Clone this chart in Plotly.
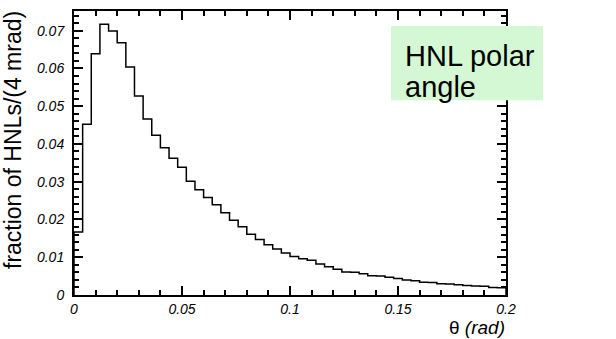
import numpy as np
import plotly.graph_objects as go

# Polar-angle distribution of HNLs, 4 mrad bins from 0 to 0.2 rad
bin_width = 0.004
n_bins = 50
fractions = [
    0.0167, 0.0452, 0.0639, 0.0717, 0.0699, 0.0668, 0.0604, 0.0527, 0.0466, 0.0423,
    0.0390, 0.0362, 0.0338, 0.0301, 0.0279, 0.0258, 0.0239, 0.0218, 0.0198, 0.0181,
    0.0161, 0.0147, 0.0133, 0.0122, 0.0111, 0.0102, 0.0096, 0.0092, 0.0082, 0.0075,
    0.0068, 0.0061, 0.0060, 0.0056, 0.0051, 0.0050, 0.0047, 0.0044, 0.0040, 0.0038,
    0.0034, 0.0033, 0.0030, 0.0029, 0.0027, 0.0025, 0.0024, 0.0023, 0.0020, 0.0019,
]
x_ticks = [0, 0.05, 0.1, 0.15, 0.2]
y_ticks = [0, 0.01, 0.02, 0.03, 0.04, 0.05, 0.06, 0.07]

edges = np.arange(n_bins + 1) * bin_width
# outline of the histogram: rise from zero at the left edge, fall back at the right
xs = [0.0] + list(edges) + [edges[-1]]
ys = [0.0] + list(fractions) + [fractions[-1], 0.0]

W, H = 616, 339
L, R, T, B = 74, 110, 9, 44
pw, ph = W - L - R, H - T - B


def px_x(p):
    return (p - L) / pw


def px_y(p):
    return (H - B - p) / ph


fig = go.Figure()
fig.add_trace(go.Scatter(
    x=xs, y=ys, mode="lines", line=dict(color="black", width=1.5, shape="hv"),
    hoverinfo="skip", showlegend=False,
))

tick_font = dict(family="Liberation Sans", size=14, color="black", style="italic")
axis_common = dict(
    showline=True, linecolor="black", linewidth=2, mirror="ticks",
    ticks="inside", ticklen=9, tickwidth=1.5, tickcolor="black",
    showgrid=False, zeroline=False, tickfont=tick_font,
)
fig.update_xaxes(
    range=[0, 0.2], tickvals=x_ticks, ticktext=[f"{v:g}" for v in x_ticks],
    minor=dict(dtick=0.01, ticks="inside", ticklen=5, tickwidth=1.5, tickcolor="black"),
    **axis_common,
)
fig.update_yaxes(
    range=[0, 0.0752], tickvals=y_ticks, ticktext=[f"{v:g}" for v in y_ticks],
    ticklabelstandoff=5,
    minor=dict(dtick=0.002, ticks="inside", ticklen=5, tickwidth=1.5, tickcolor="black"),
    **axis_common,
)

# label box
fig.add_shape(
    type="rect", xref="paper", yref="paper",
    x0=px_x(391), x1=px_x(543), y0=px_y(99), y1=px_y(24),
    fillcolor="#d4f8d4", line=dict(width=0), layer="above",
)
box_font = dict(family="Liberation Sans", size=29, color="black")
for line_text, cy in (("HNL polar", 54), ("angle", 86)):
    fig.add_annotation(
        xref="paper", yref="paper", x=px_x(403), y=px_y(cy),
        xanchor="left", yanchor="middle", align="left", showarrow=False,
        text=line_text, font=box_font,
    )

# axis titles
fig.add_annotation(
    xref="paper", yref="paper", x=px_x(13), y=px_y(7),
    xanchor="center", yanchor="top", textangle=-90, showarrow=False,
    text="fraction of HNLs/(4 mrad)",
    font=dict(family="Liberation Sans", size=23, color="black"),
)
fig.add_annotation(
    xref="paper", yref="paper", x=px_x(507), y=px_y(328),
    xanchor="right", yanchor="middle", showarrow=False,
    text="θ <i>(rad)</i>",
    font=dict(family="Liberation Sans", size=19, color="black"),
)

fig.update_layout(
    width=W, height=H, margin=dict(l=L, r=R, t=T, b=B),
    paper_bgcolor="white", plot_bgcolor="white",
)
fig.write_html("out.html")
